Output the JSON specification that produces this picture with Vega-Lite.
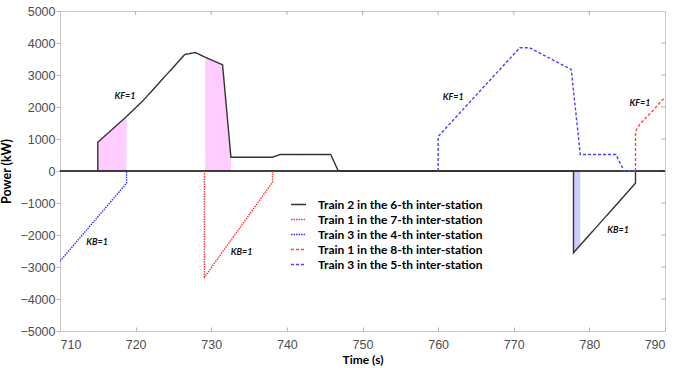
{
  "$schema": "https://vega.github.io/schema/vega-lite/v6.json",
  "width": 605,
  "height": 320,
  "autosize": "none",
  "padding": {"left": 60, "top": 11, "right": 10, "bottom": 37},
  "background": "white",
  "config": {"view": {"stroke": "#c8c8c8"}},
  "datasets": {
    "curves": [
      {"series": "Train 2 in the 6-th inter-station", "ord": 1, "t": 715, "p": 0},
      {"series": "Train 2 in the 6-th inter-station", "ord": 2, "t": 715, "p": 900},
      {"series": "Train 2 in the 6-th inter-station", "ord": 3, "t": 718.8, "p": 1703},
      {"series": "Train 2 in the 6-th inter-station", "ord": 4, "t": 721, "p": 2203},
      {"series": "Train 2 in the 6-th inter-station", "ord": 5, "t": 726.5, "p": 3640},
      {"series": "Train 2 in the 6-th inter-station", "ord": 6, "t": 727.9, "p": 3703},
      {"series": "Train 2 in the 6-th inter-station", "ord": 7, "t": 729.2, "p": 3556},
      {"series": "Train 2 in the 6-th inter-station", "ord": 8, "t": 731.5, "p": 3318},
      {"series": "Train 2 in the 6-th inter-station", "ord": 9, "t": 732.6, "p": 431},
      {"series": "Train 2 in the 6-th inter-station", "ord": 10, "t": 738.1, "p": 431},
      {"series": "Train 2 in the 6-th inter-station", "ord": 11, "t": 739.1, "p": 515},
      {"series": "Train 2 in the 6-th inter-station", "ord": 12, "t": 745.8, "p": 515},
      {"series": "Train 2 in the 6-th inter-station", "ord": 13, "t": 746.8, "p": 0},
      {"series": "Train 2 in the 6-th inter-station", "ord": 14, "t": 777.9, "p": 0},
      {"series": "Train 2 in the 6-th inter-station", "ord": 15, "t": 777.9, "p": -2556},
      {"series": "Train 2 in the 6-th inter-station", "ord": 16, "t": 786.1, "p": -381},
      {"series": "Train 2 in the 6-th inter-station", "ord": 17, "t": 786.1, "p": 0},
      {"series": "Train 1 in the 7-th inter-station", "ord": 1, "t": 729.1, "p": 0},
      {"series": "Train 1 in the 7-th inter-station", "ord": 2, "t": 729.1, "p": -3318},
      {"series": "Train 1 in the 7-th inter-station", "ord": 3, "t": 738.1, "p": -350},
      {"series": "Train 1 in the 7-th inter-station", "ord": 4, "t": 738.1, "p": 0},
      {"series": "Train 3 in the 4-th inter-station", "ord": 1, "t": 710, "p": -2818},
      {"series": "Train 3 in the 4-th inter-station", "ord": 2, "t": 718.8, "p": -380},
      {"series": "Train 3 in the 4-th inter-station", "ord": 3, "t": 718.8, "p": 0},
      {"series": "Train 1 in the 8-th inter-station", "ord": 1, "t": 786.1, "p": 0},
      {"series": "Train 1 in the 8-th inter-station", "ord": 2, "t": 786.1, "p": 1234},
      {"series": "Train 1 in the 8-th inter-station", "ord": 3, "t": 786.7, "p": 1475},
      {"series": "Train 1 in the 8-th inter-station", "ord": 4, "t": 788, "p": 1787},
      {"series": "Train 1 in the 8-th inter-station", "ord": 5, "t": 790, "p": 2306},
      {"series": "Train 3 in the 5-th inter-station", "ord": 1, "t": 760, "p": 0},
      {"series": "Train 3 in the 5-th inter-station", "ord": 2, "t": 760, "p": 1078},
      {"series": "Train 3 in the 5-th inter-station", "ord": 3, "t": 766.2, "p": 2672},
      {"series": "Train 3 in the 5-th inter-station", "ord": 4, "t": 770.8, "p": 3850},
      {"series": "Train 3 in the 5-th inter-station", "ord": 5, "t": 772.1, "p": 3850},
      {"series": "Train 3 in the 5-th inter-station", "ord": 6, "t": 777.6, "p": 3172},
      {"series": "Train 3 in the 5-th inter-station", "ord": 7, "t": 778.8, "p": 516},
      {"series": "Train 3 in the 5-th inter-station", "ord": 8, "t": 783.5, "p": 516},
      {"series": "Train 3 in the 5-th inter-station", "ord": 9, "t": 784.6, "p": 0},
      {"series": "Train 3 in the 5-th inter-station", "ord": 10, "t": 786.1, "p": 0}
    ],
    "shades": [
      {"region": "A", "kind": "pink", "t": 715, "p": 900},
      {"region": "A", "kind": "pink", "t": 718.8, "p": 1703},
      {"region": "B", "kind": "pink", "t": 729.2, "p": 3556},
      {"region": "B", "kind": "pink", "t": 731.5, "p": 3318},
      {"region": "B", "kind": "pink", "t": 732.6, "p": 431},
      {"region": "C", "kind": "blue", "t": 777.9, "p": -2556},
      {"region": "C", "kind": "blue", "t": 778.8, "p": -2345}
    ],
    "labels": [
      {"text": "KF=1", "t": 718.6, "p": 2359},
      {"text": "KB=1", "t": 714.9, "p": -2225},
      {"text": "KB=1", "t": 734.0, "p": -2537},
      {"text": "KF=1", "t": 762.0, "p": 2306},
      {"text": "KF=1", "t": 786.7, "p": 2119},
      {"text": "KB=1", "t": 783.8, "p": -1838}
    ],
    "xticks": [{"v": 720}, {"v": 730}, {"v": 740}, {"v": 750}, {"v": 760}, {"v": 770}, {"v": 780}],
    "yticks": [{"v": -4000}, {"v": -3000}, {"v": -2000}, {"v": -1000}, {"v": 0}, {"v": 1000}, {"v": 2000}, {"v": 3000}, {"v": 4000}]
  },
  "layer": [
    {
      "data": {"name": "shades"},
      "transform": [{"filter": "datum.kind === 'pink'"}],
      "mark": {"type": "area", "color": "#ffccff", "opacity": 1},
      "encoding": {
        "x": {"field": "t", "type": "quantitative", "scale": {"domain": [710, 790], "nice": false, "zero": false},
          "axis": {"values": [710, 720, 730, 740, 750, 760, 770, 780, 790], "format": "d", "title": "Time (s)",
            "labelFont": "Liberation Sans", "labelFontSize": 12.5, "labelColor": "#4d4d4d", "labelPadding": 11, "labelOverlap": false,
            "titleFont": "Lato", "titleFontSize": 12, "titleFontWeight": "bold", "titleColor": "#000", "titlePadding": 4,
            "domainColor": "#c8c8c8", "tickColor": "#b0b0b0", "tickSize": -4, "grid": false}},
        "y": {"field": "p", "type": "quantitative", "scale": {"domain": [-5000, 5000], "nice": false},
          "axis": {"values": [-5000, -4000, -3000, -2000, -1000, 0, 1000, 2000, 3000, 4000, 5000], "format": "d", "title": "Power (kW)",
            "labelFont": "Liberation Sans", "labelFontSize": 12.5, "labelColor": "#4d4d4d", "labelPadding": 1, "labelOverlap": false,
            "titleFont": "Lato", "titleFontSize": 12.5, "titleFontWeight": "bold", "titleColor": "#000", "titlePadding": 6,
            "domainColor": "#c8c8c8", "tickColor": "#b0b0b0", "tickSize": 4, "grid": false}},
        "y2": {"datum": 0},
        "detail": {"field": "region"}
      }
    },
    {
      "data": {"name": "shades"},
      "transform": [{"filter": "datum.kind === 'blue'"}],
      "mark": {"type": "area", "color": "#ccccff", "opacity": 1},
      "encoding": {
        "x": {"field": "t", "type": "quantitative", "axis": null},
        "y": {"field": "p", "type": "quantitative", "axis": null},
        "y2": {"datum": 0},
        "detail": {"field": "region"}
      }
    },
    {
      "data": {"name": "xticks"},
      "mark": {"type": "rule", "color": "#b0b0b0", "strokeWidth": 1},
      "encoding": {
        "x": {"field": "v", "type": "quantitative", "axis": null},
        "y": {"datum": 5000, "axis": null},
        "y2": {"datum": 4875}
      }
    },
    {
      "data": {"name": "yticks"},
      "mark": {"type": "rule", "color": "#b0b0b0", "strokeWidth": 1},
      "encoding": {
        "y": {"field": "v", "type": "quantitative", "axis": null},
        "x": {"datum": 790, "axis": null},
        "x2": {"datum": 789.47}
      }
    },
    {
      "data": {"values": [{"z": 0}]},
      "mark": {"type": "rule", "color": "#000", "strokeWidth": 1.5},
      "encoding": {
        "y": {"field": "z", "type": "quantitative", "axis": null}
      }
    },
    {
      "data": {"name": "curves"},
      "mark": {"type": "line", "strokeWidth": 1.4, "clip": true},
      "encoding": {
        "x": {"field": "t", "type": "quantitative", "axis": null},
        "y": {"field": "p", "type": "quantitative", "axis": null},
        "order": {"field": "ord", "type": "quantitative"},
        "color": {"field": "series", "type": "nominal",
          "scale": {"domain": ["Train 2 in the 6-th inter-station", "Train 1 in the 7-th inter-station", "Train 3 in the 4-th inter-station", "Train 1 in the 8-th inter-station", "Train 3 in the 5-th inter-station"],
            "range": ["#333333", "#ff3333", "#3333ff", "#ff4444", "#4444ff"]},
          "legend": {"title": null, "orient": "none", "legendX": 230, "legendY": 185, "symbolType": "stroke", "symbolSize": 225, "symbolStrokeWidth": 1.5,
            "labelFont": "Lato", "labelFontSize": 12, "labelFontWeight": "bold", "labelColor": "#000", "labelOffset": 11, "rowPadding": 0, "padding": 0, "labelLimit": 300}},
        "strokeDash": {"field": "series", "type": "nominal",
          "scale": {"domain": ["Train 2 in the 6-th inter-station", "Train 1 in the 7-th inter-station", "Train 3 in the 4-th inter-station", "Train 1 in the 8-th inter-station", "Train 3 in the 5-th inter-station"],
            "range": [[1, 0], [1.5, 1], [1.5, 1], [3, 2], [3, 2]]},
          "legend": null}
      }
    },
    {
      "data": {"name": "labels"},
      "mark": {"type": "text", "font": "Lato", "fontSize": 9, "fontStyle": "italic", "fontWeight": "bold", "color": "#111"},
      "encoding": {
        "x": {"field": "t", "type": "quantitative", "axis": null},
        "y": {"field": "p", "type": "quantitative", "axis": null},
        "text": {"field": "text"}
      }
    }
  ],
  "resolve": {"axis": {"x": "independent", "y": "independent"}}
}
